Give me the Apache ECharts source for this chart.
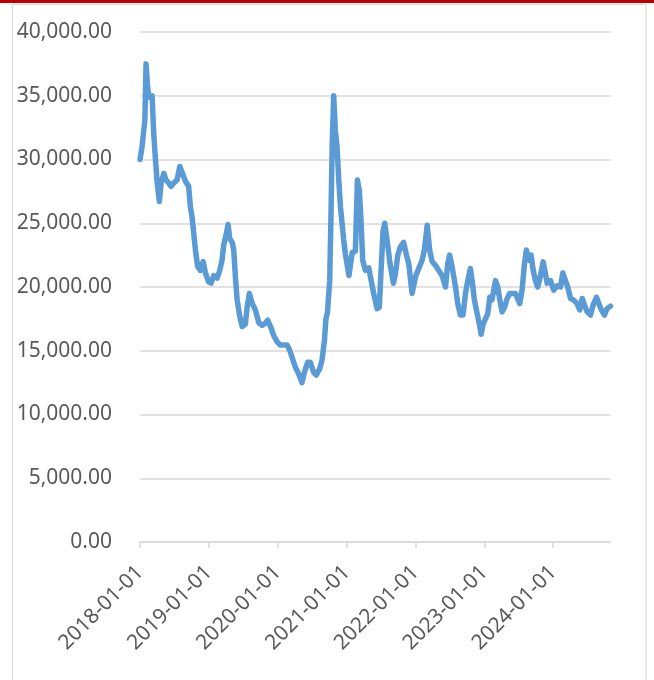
<!DOCTYPE html>
<html>
<head>
<meta charset="utf-8">
<script src="https://cdn.jsdelivr.net/npm/echarts@6/dist/echarts.min.js"></script>
<style>
html,body{margin:0;padding:0;background:#fff;}
#chart{width:654px;height:680px;}
</style>
</head>
<body>
<div id="chart"></div>
<script>
const dates = [
'2018-01-01','2018-01-12','2018-01-21','2018-01-27','2018-02-02','2018-02-09','2018-02-16','2018-03-06','2018-03-15','2018-03-24',
'2018-04-02','2018-04-14','2018-04-23','2018-05-07','2018-05-19','2018-06-02','2018-06-15','2018-06-29','2018-07-17','2018-07-31',
'2018-08-12','2018-08-30','2018-09-16','2018-09-25','2018-10-04','2018-10-13','2018-10-22','2018-11-03','2018-11-17','2018-12-02',
'2018-12-14','2018-12-31','2019-01-13','2019-01-27','2019-02-14','2019-02-28','2019-03-12','2019-03-21','2019-04-04','2019-04-13',
'2019-04-22','2019-05-05','2019-05-13','2019-05-22','2019-05-31','2019-06-14','2019-06-27','2019-07-14','2019-07-23','2019-08-04',
'2019-08-19','2019-09-05','2019-09-23','2019-10-11','2019-10-23','2019-11-09','2019-11-24','2019-12-11','2019-12-29','2020-01-15',
'2020-02-20','2020-03-03','2020-03-17','2020-04-04','2020-04-21','2020-05-09','2020-05-22','2020-06-08','2020-06-22','2020-07-10',
'2020-07-24','2020-08-11','2020-08-23','2020-09-05','2020-09-13','2020-09-21','2020-10-03','2020-10-10','2020-10-16','2020-10-24',
'2020-11-02','2020-11-11','2020-11-20','2020-11-29','2020-12-16','2020-12-25','2021-01-13','2021-01-30','2021-02-16','2021-02-27',
'2021-03-09','2021-03-18','2021-03-27','2021-04-10','2021-04-28','2021-05-07','2021-05-24','2021-06-11','2021-06-23','2021-07-04',
'2021-07-13','2021-07-22','2021-08-03','2021-08-21','2021-09-06','2021-09-16','2021-09-29','2021-10-13','2021-10-30','2021-11-14',
'2021-11-26','2021-12-14','2022-01-01','2022-01-18','2022-02-05','2022-02-17','2022-03-04','2022-03-17','2022-03-30','2022-04-17',
'2022-05-04','2022-05-22','2022-06-09','2022-06-21','2022-07-01','2022-07-14','2022-08-01','2022-08-13','2022-08-27','2022-09-10',
'2022-09-23','2022-10-05','2022-10-19','2022-10-30','2022-11-09','2022-11-24','2022-12-08','2022-12-15','2022-12-26','2023-01-07',
'2023-01-19','2023-01-30','2023-02-11','2023-03-01','2023-03-13','2023-03-24','2023-04-05','2023-04-18','2023-05-02','2023-05-16',
'2023-06-15','2023-07-08','2023-07-20','2023-08-02','2023-08-12','2023-08-25','2023-09-06','2023-09-17','2023-09-29','2023-10-11',
'2023-10-26','2023-11-09','2023-11-21','2023-11-30','2023-12-18','2024-01-04','2024-01-22','2024-02-09','2024-02-21','2024-03-06',
'2024-03-18','2024-04-02','2024-04-19','2024-05-07','2024-05-21','2024-06-03','2024-06-15','2024-06-29','2024-07-17','2024-07-31',
'2024-08-18','2024-08-30','2024-09-13','2024-09-29','2024-10-13','2024-10-31'
];
const values = [
30000,31000,32300,33100,37500,36000,34900,35000,32000,30000,
28200,26700,28150,28900,28400,28150,27900,28150,28400,29450,
29000,28300,27900,26300,25500,24200,22900,21600,21300,22000,
21100,20400,20300,20900,20700,21300,22100,23300,24200,24900,
23800,23500,22900,20800,19000,17700,16900,17100,18400,19500,
18700,18200,17200,17000,17100,17400,16900,16200,15700,15450,
15450,15100,14500,13700,13200,12500,13300,14100,14100,13300,
13100,13600,14250,15800,17500,18000,20500,25800,31000,35000,
32300,31000,28400,26300,23700,22600,20900,22700,22800,28400,
27600,25200,22100,21300,21500,20800,19500,18300,18400,21800,
24400,25000,23700,21600,20300,21000,22500,23150,23500,22500,
21850,19500,20800,21450,22100,22900,24850,22900,22000,21700,
21300,20900,20000,21850,22500,21600,20000,18700,17800,17800,
19500,20500,21450,20300,19000,17900,16900,16300,17100,17500,
17900,19200,19000,20500,20000,19000,18050,18400,19100,19500,
19500,18700,19750,21850,22900,22100,22500,21300,20500,20000,
20900,21970,21060,20300,20500,19750,20100,20000,21100,20500,
20000,19100,18970,18700,18200,19100,18600,18050,17800,18600,
19200,18700,18200,17800,18300,18500
];
const xTickDates = ['2018-01-01','2019-01-01','2020-01-01','2021-01-01','2022-01-01','2023-01-01','2024-01-01'];
const yMin = 0, yMax = 40000, yStep = 5000;

function ts(s){ const p = s.split('-').map(Number); return Date.UTC(p[0], p[1]-1, p[2]); }
function fmtDate(v){ const d = new Date(v); const m = String(d.getUTCMonth()+1).padStart(2,'0'); const dd = String(d.getUTCDate()).padStart(2,'0'); return d.getUTCFullYear()+'-'+m+'-'+dd; }

const seriesData = dates.map((d,i)=>[ts(d), values[i]]);
const tickVals = xTickDates.map(ts);
const FONT = 'Noto Sans';

const chart = echarts.init(document.getElementById('chart'), null, {renderer:'canvas'});
chart.setOption({
  animation:false,
  backgroundColor:'#ffffff',
  grid:{left:140, right:43.5, top:32, bottom:138, containLabel:false},
  xAxis:{
    type:'value',
    min: ts(dates[0]),
    max: ts(dates[dates.length-1]),
    axisLine:{show:true, lineStyle:{color:'#D9D9D9', width:1.5}},
    axisTick:{show:true, length:6, lineStyle:{color:'#D9D9D9', width:1.5}, customValues: tickVals},
    splitLine:{show:false},
    axisLabel:{
      customValues: tickVals,
      rotate:45, margin:27,
      color:'#595959', fontFamily:FONT, fontSize:21,
      formatter:(v)=>fmtDate(v),
      hideOverlap:false, showMinLabel:true, showMaxLabel:true
    }
  },
  yAxis:{
    type:'value', min:yMin, max:yMax, interval:yStep,
    axisLine:{show:false}, axisTick:{show:false},
    splitLine:{show:true, lineStyle:{color:'#D9D9D9', width:1.5}},
    axisLabel:{
      margin:28, color:'#595959', fontFamily:FONT, fontSize:21,
      formatter:(v)=>v.toLocaleString('en-US',{minimumFractionDigits:2, maximumFractionDigits:2})
    }
  },
  series:[{
    type:'line', data:seriesData, showSymbol:false, symbol:'none', smooth:false,
    lineStyle:{color:'#5B9BD5', width:5.5, cap:'round', join:'round'}
  }],
  graphic:[
    {type:'rect', shape:{x:12.5, y:4.5, width:633.5, height:700}, style:{fill:'none', stroke:'#D9D9D9', lineWidth:1.2}, z:-1, silent:true},
    {type:'rect', shape:{x:0, y:0, width:654, height:3}, style:{fill:'#C00000'}, silent:true}
  ]
});
</script>
</body>
</html>
